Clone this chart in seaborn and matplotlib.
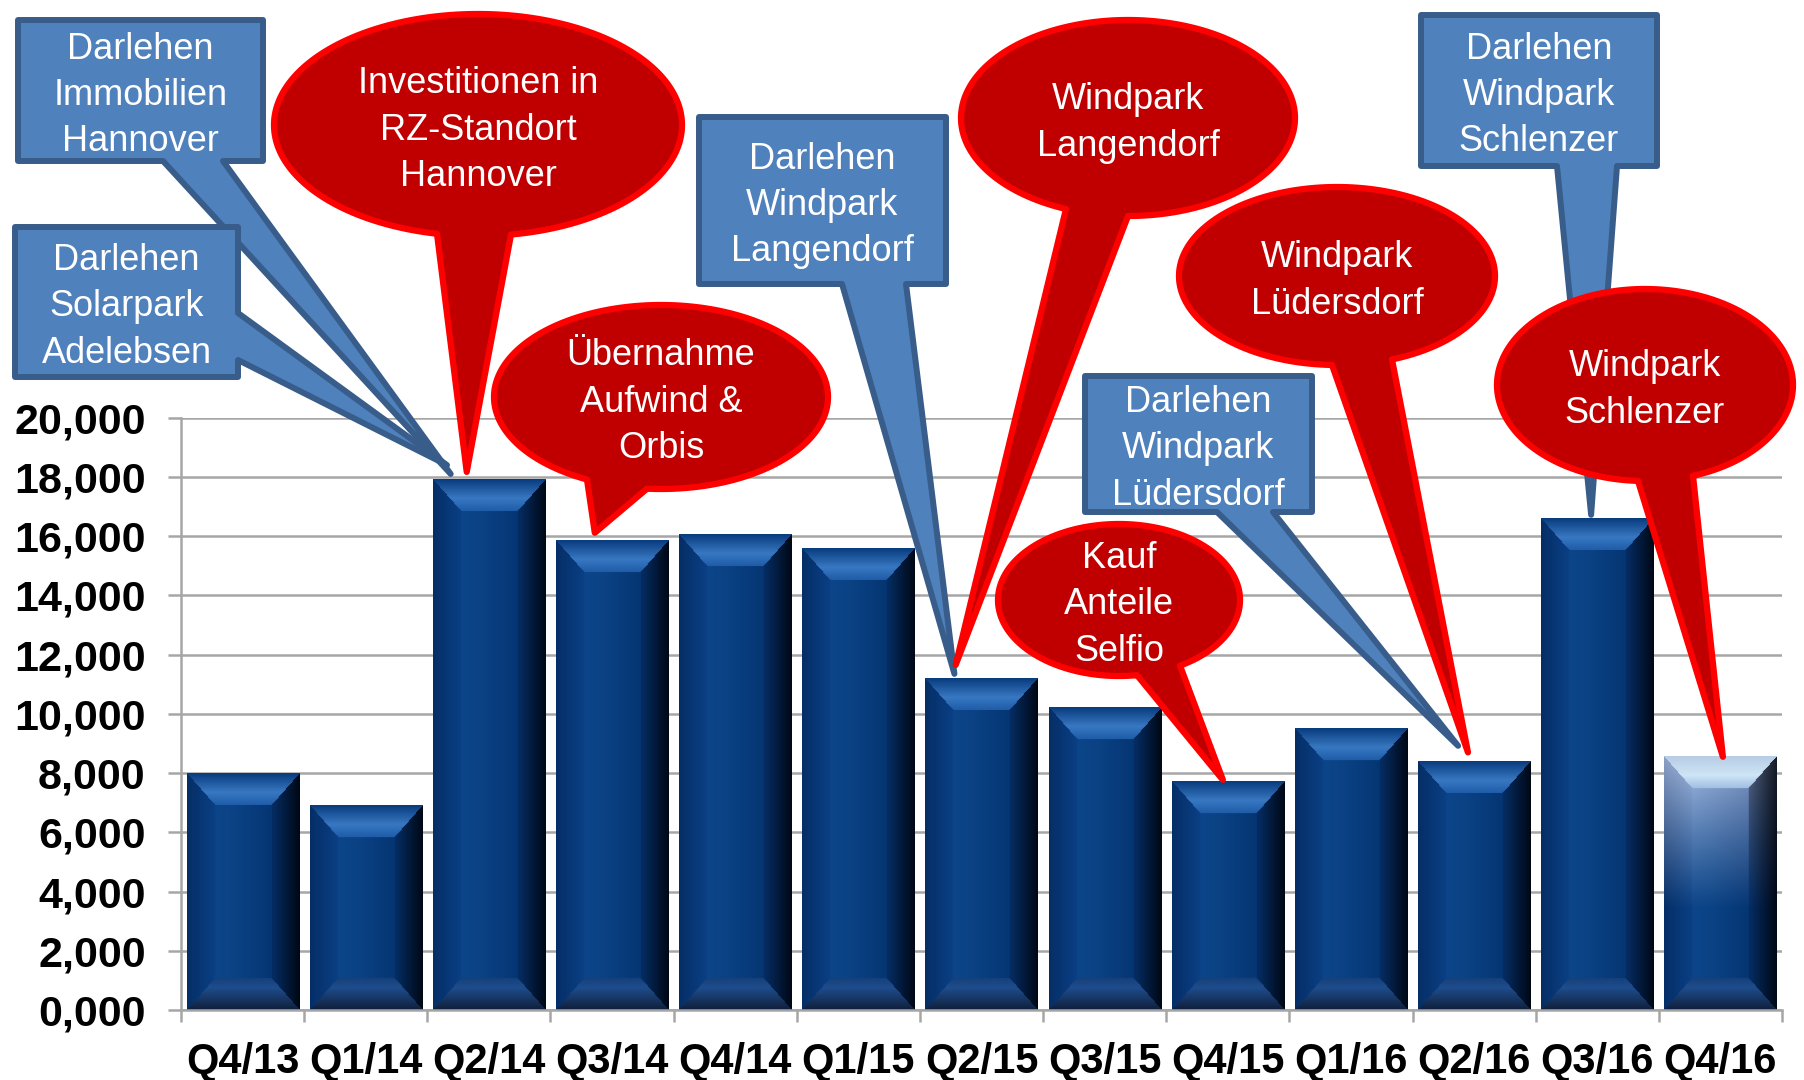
import numpy as np
import matplotlib
matplotlib.use("Agg")
import matplotlib.pyplot as plt
from matplotlib.path import Path
from matplotlib.patches import PathPatch
import seaborn as sns

# ---------------- data ----------------
quarters = ["Q4/13", "Q1/14", "Q2/14", "Q3/14", "Q4/14", "Q1/15", "Q2/15",
            "Q3/15", "Q4/15", "Q1/16", "Q2/16", "Q3/16", "Q4/16"]
values = [8000, 6900, 17900, 15850, 16050, 15600, 11200,
          10200, 7700, 9500, 8400, 16600, 8550]
y_ticks = [0, 2000, 4000, 6000, 8000, 10000, 12000, 14000, 16000, 18000, 20000]
y_tick_labels = ["0,000", "2,000", "4,000", "6,000", "8,000", "10,000",
                 "12,000", "14,000", "16,000", "18,000", "20,000"]

# callout texts
blue_texts = ["Darlehen\nImmobilien\nHannover",
              "Darlehen\nSolarpark\nAdelebsen",
              "Darlehen\nWindpark\nLangendorf",
              "Darlehen\nWindpark\nLüdersdorf",
              "Darlehen\nWindpark\nSchlenzer"]
blue_targets = ["Q2/14", "Q2/14", "Q2/15", "Q2/16", "Q3/16"]
red_texts = ["Investitionen in\nRZ-Standort\nHannover",
             "Übernahme\nAufwind &\nOrbis",
             "Windpark\nLangendorf",
             "Windpark\nLüdersdorf",
             "Kauf\nAnteile\nSelfio",
             "Windpark\nSchlenzer"]
red_targets = ["Q2/14", "Q3/14", "Q2/15", "Q2/16", "Q4/15", "Q4/16"]

# ---------------- layout (pixels, y downward) ----------------
W, H = 1804, 1080
# box: (x0, y0, x1, y1), tail side, tail base, tip offset (category units, value units)
blue_geom = [
    dict(box=(15, 17, 266, 164), side="bottom", base=(163, 223), off=(-0.31, 200)),
    dict(box=(12, 224, 241, 380), side="right", base=(313, 360), off=(-0.34, 500)),
    dict(box=(696, 114, 949, 287), side="bottom", base=(842, 906), off=(-0.22, 150)),
    dict(box=(1082, 373, 1315, 515), side="bottom", base=(1217, 1273), off=(-0.13, 520)),
    dict(box=(1418, 12, 1660, 169), side="bottom", base=(1557, 1617), off=(-0.05, 120)),
]
# ellipse: center, semi-axes, tail base x, tip offset
red_geom = [
    dict(c=(478, 125), ab=(207, 114), base=(437, 511), off=(-0.18, 270)),
    dict(c=(661, 397), ab=(170, 95), base=(587, 647), off=(-0.14, 265)),
    dict(c=(1128, 118), ab=(170, 101), base=(1066, 1128), off=(-0.21, 450)),
    dict(c=(1337, 276), ab=(161, 92), base=(1332, 1392), off=(-0.05, 300)),
    dict(c=(1119, 600), ab=(124, 79), base=(1137, 1180), off=(-0.04, 70)),
    dict(c=(1645, 385), ab=(151, 99), base=(1638, 1693), off=(0.02, 0)),
]

BLUE_FILL, BLUE_EDGE = "#4F81BD", "#385D8A"
RED_FILL, RED_EDGE = "#C00000", "#FF0000"
GRID = "#A6A6A6"
FONT = "Liberation Sans"
CALLOUT_SIZE = 26
CALLOUT_SPACING = 1.42

plt.rcParams["font.family"] = [FONT, "DejaVu Sans"]

fig = plt.figure(figsize=(W / 100, H / 100), dpi=100)
fig.patch.set_facecolor("white")
ax = fig.add_axes([181 / W, (H - 1010) / H, 1601 / W, (1010 - 417.7) / H])

sns.barplot(x=quarters, y=values, order=quarters, ax=ax, color="#083D80",
            width=0.91, saturation=1, edgecolor="none", zorder=2)

ax.set_xlim(-0.5, len(quarters) - 0.5)
ax.set_ylim(0, 20000)
ax.set_xlabel("")
ax.set_ylabel("")
ax.set_yticks(y_ticks)
ax.set_yticklabels(y_tick_labels)
ax.set_xticks(range(len(quarters)))
ax.set_xticklabels(quarters)
ax.set_xticks(np.arange(-0.5, len(quarters), 1), minor=True)

ax.set_axisbelow(True)
ax.yaxis.grid(True, color=GRID, lw=1.8)
ax.xaxis.grid(False)
for s in ["top", "right"]:
    ax.spines[s].set_visible(False)
for s in ["left", "bottom"]:
    ax.spines[s].set_color(GRID)
    ax.spines[s].set_linewidth(1.8)
ax.tick_params(axis="y", which="major", length=9.4, width=1.8, color=GRID,
               pad=16, labelsize=31)
ax.tick_params(axis="x", which="major", length=0, pad=23, labelsize=30)
ax.tick_params(axis="x", which="minor", length=8.6, width=1.8, color=GRID)
for lab in ax.get_xticklabels() + ax.get_yticklabels():
    lab.set_fontweight("bold")
    lab.set_color("black")


# ---------------- bevelled bar shading ----------------
def stops(t, pts):
    t = np.clip(t, 0, 1)
    xs = [p[0] for p in pts]
    out = np.zeros(t.shape + (3,))
    for k in range(3):
        out[..., k] = np.interp(t, xs, [p[1][k] for p in pts])
    return out


NORMAL = dict(
    center=[(0, (0.05, 0.27, 0.54)), (0.35, (0.04, 0.26, 0.52)), (1, (0.02, 0.21, 0.45))],
    left=[(0, (0.02, 0.18, 0.40)), (1, (0.04, 0.25, 0.52))],
    right=[(0, (0.02, 0.18, 0.40)), (1, (0.0, 0.03, 0.08))],
    top=[(0, (0.03, 0.23, 0.49)), (0.6, (0.22, 0.47, 0.76)), (1, (0.12, 0.36, 0.66))],
    bottom=[(0, (0.08, 0.25, 0.48)), (0.3, (0.12, 0.30, 0.55)), (1, (0.06, 0.12, 0.23))],
)
LIGHT = dict(
    center=[(0, (0.68, 0.76, 0.90)), (1, (0.55, 0.63, 0.80))],
    left=[(0, (0.55, 0.63, 0.78)), (1, (0.66, 0.74, 0.88))],
    right=[(0, (0.35, 0.40, 0.50)), (1, (0.08, 0.10, 0.15))],
    top=[(0, (0.72, 0.80, 0.90)), (0.6, (0.90, 0.97, 1.0)), (1, (0.78, 0.86, 0.96))],
    bottom=NORMAL["bottom"],
)


def bar_image(Wp, Hp, bx, by, pal):
    u = np.arange(Wp)[None, :] + 0.5 + np.zeros((Hp, 1))
    v = np.arange(Hp)[:, None] + 0.5 + np.zeros((1, Wp))
    dl, dr, dt, db = u / bx, (Wp - u) / bx, v / by, (Hp - v) / by
    stack = np.stack([dl, dr, dt, db, np.ones_like(u)], axis=0)
    reg = np.argmin(stack, axis=0)
    img = np.zeros((Hp, Wp, 3))
    cimg = stops((u - bx) / max(Wp - 2 * bx, 1), pal["center"])
    limg = stops(dl, pal["left"])
    rimg = stops(1 - dr, pal["right"])
    timg = stops(dt, pal["top"])
    bimg = stops(1 - db, pal["bottom"])
    for k, im in enumerate([limg, rimg, timg, bimg, cimg]):
        img[reg == k] = im[reg == k]
    return img


fig.canvas.draw()
for i, p in enumerate(ax.patches):
    x0, w, h = p.get_x(), p.get_width(), p.get_height()
    (px0, py0), (px1, py1) = ax.transData.transform([(x0, 0), (x0 + w, h)])
    Wp, Hp = int(round(px1 - px0)), int(round(py1 - py0))
    img = bar_image(Wp, Hp, 28, 32, NORMAL)
    if i == len(quarters) - 1:
        light = bar_image(Wp, Hp, 28, 32, LIGHT)
        vv = (np.arange(Hp) + 0.5)[:, None, None]
        wgt = np.clip(1 - vv / (0.6 * Hp), 0, 1) ** 1.1
        img = img * (1 - wgt) + light * wgt
    ax.imshow(img, extent=(x0, x0 + w, 0, h), aspect="auto", origin="upper",
              interpolation="bilinear", zorder=2.5)
ax.set_xlim(-0.5, len(quarters) - 0.5)
ax.set_ylim(0, 20000)


# ---------------- callouts ----------------
def tip_px(cat, off):
    i = quarters.index(cat)
    d = ax.transData.transform((i + off[0], values[i] + off[1]))
    return (d[0], H - d[1])


def to_fig(pts):
    return [(x / W, 1 - y / H) for x, y in pts]


INSET = 3
TEXT_DY = 5
for txt, cat, g in zip(blue_texts, blue_targets, blue_geom):
    x0, y0, x1, y1 = g["box"]
    x0, y0, x1, y1 = x0 + INSET, y0 + INSET, x1 - INSET, y1 - INSET
    tp = tip_px(cat, g["off"])
    a, b = g["base"]
    if g["side"] == "bottom":
        pts = [(x0, y0), (x1, y0), (x1, y1), (b, y1), tp, (a, y1), (x0, y1), (x0, y0)]
    else:
        pts = [(x0, y0), (x1, y0), (x1, a), tp, (x1, b), (x1, y1), (x0, y1), (x0, y0)]
    path = Path(to_fig(pts), closed=True)
    fig.add_artist(PathPatch(path, transform=fig.transFigure, facecolor=BLUE_FILL,
                             edgecolor=BLUE_EDGE, lw=4.3, joinstyle="round", zorder=5))
    cx = (g["box"][0] + g["box"][2]) / 2
    cy = (g["box"][1] + g["box"][3]) / 2 + TEXT_DY
    fig.text(cx / W, 1 - cy / H, txt, ha="center", va="center", color="white",
             fontsize=CALLOUT_SIZE, family=[FONT, "DejaVu Sans"],
             linespacing=CALLOUT_SPACING, multialignment="center", zorder=7)

for txt, cat, g in zip(red_texts, red_targets, red_geom):
    cx, cy = g["c"]
    a, b = g["ab"][0] - INSET, g["ab"][1] - INSET
    xa, xb = g["base"]
    ta = np.arccos(np.clip((xa - cx) / a, -1, 1))
    tb = np.arccos(np.clip((xb - cx) / a, -1, 1))
    ts = np.linspace(ta, tb + 2 * np.pi, 300)
    pts = [(cx + a * np.cos(t), cy + b * np.sin(t)) for t in ts]
    pts.append(tip_px(cat, g["off"]))
    pts.append(pts[0])
    path = Path(to_fig(pts), closed=True)
    fig.add_artist(PathPatch(path, transform=fig.transFigure, facecolor=RED_FILL,
                             edgecolor=RED_EDGE, lw=4.5, joinstyle="round", zorder=6))
    fig.text(cx / W, 1 - (cy + TEXT_DY) / H, txt, ha="center", va="center",
             color="white", fontsize=CALLOUT_SIZE, family=[FONT, "DejaVu Sans"],
             linespacing=CALLOUT_SPACING, multialignment="center", zorder=8)

fig.savefig("out.png", dpi=100)
